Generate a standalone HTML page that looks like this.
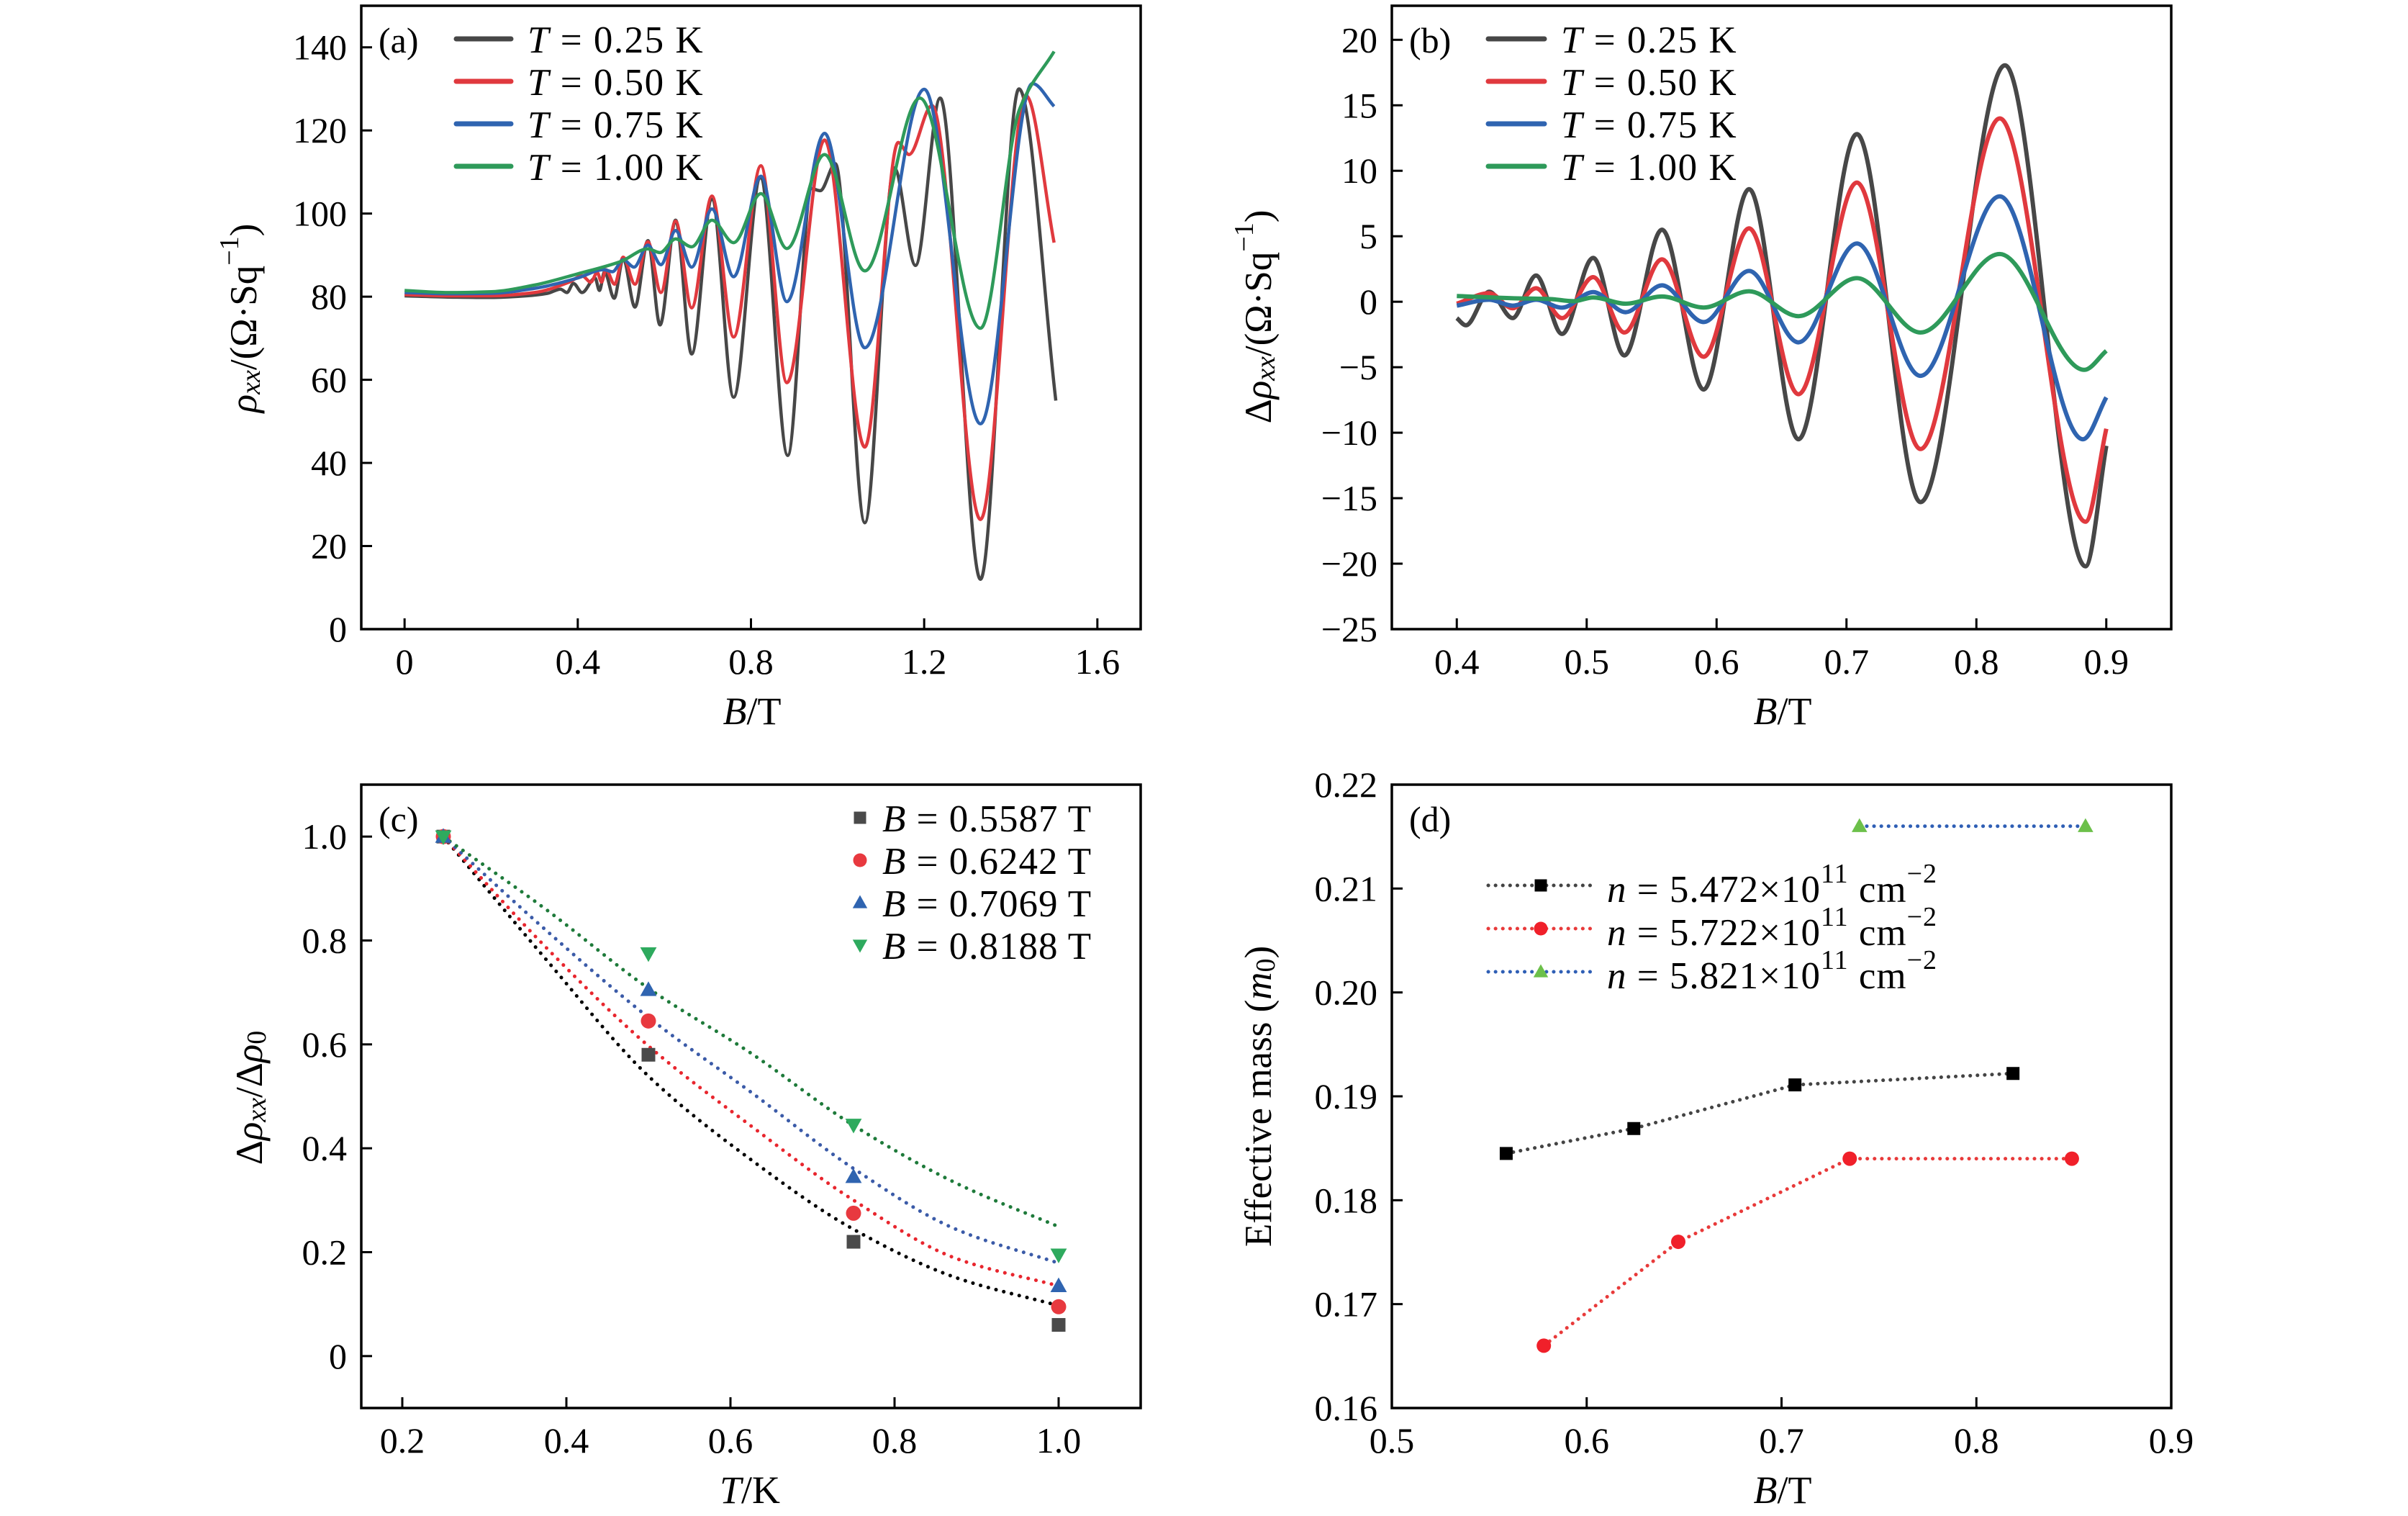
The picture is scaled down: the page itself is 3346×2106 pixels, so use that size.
<!DOCTYPE html>
<html><head><meta charset="utf-8"><style>
html,body{margin:0;padding:0;background:#fff;}
svg{display:block;font-family:"Liberation Serif",serif;}
</style></head><body>
<svg id="fig" width="3346" height="2106" viewBox="0 0 3346 2106" xmlns="http://www.w3.org/2000/svg"></svg>
<script>
// ---------- Panel (a) data: rho_xx vs B ----------
const aBlackB=[0,0.1,0.2,0.28,0.33,0.36,0.375,0.39,0.41,0.44,0.45,0.462,0.484,0.505,0.532,0.562,0.59,0.626,0.663,0.71,0.76,0.822,0.885,0.94,0.96,0.995,1.063,1.131,1.18,1.237,1.33,1.419,1.504];
const aBlackV=[80.2,79.9,79.8,80.2,80.8,81.8,81,83.2,81,84.5,81.5,86,79.6,89.2,77.5,93.5,73.2,98.4,66.2,103.4,55.8,108.6,41.8,106,105.5,112,25.6,111,87.5,127.8,12,130,55];
const aRedB=[0,0.1,0.2,0.3,0.38,0.41,0.43,0.445,0.455,0.465,0.485,0.505,0.532,0.562,0.592,0.626,0.663,0.71,0.76,0.823,0.883,0.97,1.063,1.14,1.165,1.218,1.33,1.435,1.5];
const aRedV=[80.5,80.2,80.2,81,83.5,85,83.5,85.8,83.5,86.5,83,89.5,83,93.2,81,98.2,77.3,104.2,70.3,111.5,59.3,117.7,43.8,117.1,114.2,126,26.4,128.4,93];
const aBlueB=[0,0.1,0.2,0.3,0.4,0.46,0.48,0.505,0.53,0.562,0.592,0.626,0.663,0.71,0.76,0.823,0.883,0.97,1.063,1.2,1.33,1.45,1.5];
const aBlueV=[81,80.7,80.8,82,84.5,86.5,86,88.9,87.1,92.4,87.7,95.9,87.1,101.1,84.8,109,78.8,119.3,67.7,129.9,49.4,131.3,125.8];
const aGreenB=[0,0.1,0.2,0.3,0.4,0.5,0.562,0.59,0.626,0.663,0.71,0.76,0.823,0.883,0.97,1.063,1.19,1.33,1.42,1.5];
const aGreenV=[81.5,81,81.2,82.8,85.5,88.5,91.5,90.6,93.9,92,98.4,93,104.8,91.6,114.2,86.2,127.8,72.4,125,139];
const aXTicks=[0,0.4,0.8,1.2,1.6];
const aXTickLabels=["0","0.4","0.8","1.2","1.6"];
const aYTicks=[0,20,40,60,80,100,120,140];
const aYTickLabels=["0","20","40","60","80","100","120","140"];
const tempLabels=["0.25","0.50","0.75","1.00"];

// ---------- Panel (b) data: delta rho_xx vs B ----------
const bBlackB=[0.4,0.407,0.425,0.443,0.461,0.481,0.505,0.529,0.558,0.59,0.625,0.663,0.708,0.757,0.822,0.884,0.9];
const bBlackV=[-1.25,-1.8,0.77,-1.25,2.0,-2.46,3.35,-4.1,5.5,-6.7,8.6,-10.5,12.8,-15.3,18.05,-20.2,-11];
const bRedB=[0.4,0.425,0.443,0.461,0.481,0.505,0.529,0.558,0.59,0.625,0.663,0.708,0.757,0.818,0.884,0.9];
const bRedV=[-0.15,0.66,-0.5,1.03,-1.25,1.88,-2.35,3.24,-4.2,5.6,-7.06,9.1,-11.25,14,-16.8,-9.7];
const bBlueB=[0.4,0.425,0.443,0.461,0.481,0.505,0.53,0.558,0.59,0.625,0.663,0.708,0.757,0.818,0.882,0.9];
const bBlueV=[-0.3,0.15,-0.3,0.15,-0.45,0.74,-0.8,1.25,-1.55,2.35,-3.1,4.45,-5.66,8.05,-10.5,-7.3];
const bGreenB=[0.4,0.45,0.47,0.49,0.505,0.53,0.558,0.59,0.625,0.663,0.708,0.757,0.818,0.883,0.9];
const bGreenV=[0.44,0.25,0.22,0.04,0.33,-0.15,0.4,-0.44,0.8,-1.1,1.8,-2.35,3.64,-5.2,-3.75];
const bXTicks=[0.4,0.5,0.6,0.7,0.8,0.9];
const bXTickLabels=["0.4","0.5","0.6","0.7","0.8","0.9"];
const bYTicks=[-25,-20,-15,-10,-5,0,5,10,15,20];
const bYTickLabels=["\u221225","\u221220","\u221215","\u221210","\u22125","0","5","10","15","20"];

// ---------- Panel (c) data: normalized amplitude vs T ----------
const cT=[0.25,0.5,0.75,1.0];
const cBlack=[1.0,0.58,0.22,0.06];
const cRed=[1.0,0.645,0.275,0.095];
const cBlue=[1.0,0.705,0.345,0.135];
const cGreen=[1.0,0.775,0.445,0.195];
const cFitT=[0.25,0.375,0.5,0.625,0.75,0.875,1.0];
const cFitBlack=[1.0,0.764,0.539,0.378,0.244,0.151,0.097];
const cFitRed=[1.0,0.787,0.597,0.443,0.30,0.188,0.135];
const cFitBlue=[1.0,0.82,0.652,0.508,0.361,0.244,0.179];
const cFitGreen=[1.0,0.86,0.708,0.583,0.444,0.333,0.249];
const cFieldLabels=["0.5587","0.6242","0.7069","0.8188"];
const cXTicks=[0.2,0.4,0.6,0.8,1.0];
const cXTickLabels=["0.2","0.4","0.6","0.8","1.0"];
const cYTicks=[0,0.2,0.4,0.6,0.8,1.0];
const cYTickLabels=["0","0.2","0.4","0.6","0.8","1.0"];

// ---------- Panel (d) data: effective mass vs B ----------
const dBlackB=[0.5587,0.6242,0.7069,0.8188];
const dBlackM=[0.1845,0.1869,0.1911,0.1922];
const dRedB=[0.578,0.647,0.735,0.849];
const dRedM=[0.166,0.176,0.184,0.184];
const dGreenB=[0.74,0.856];
const dGreenM=[0.216,0.216];
const dDensityLabels=["5.472","5.722","5.821"];
const dXTicks=[0.5,0.6,0.7,0.8,0.9];
const dXTickLabels=["0.5","0.6","0.7","0.8","0.9"];
const dYTicks=[0.16,0.17,0.18,0.19,0.20,0.21,0.22];
const dYTickLabels=["0.16","0.17","0.18","0.19","0.20","0.21","0.22"];

const NS="http://www.w3.org/2000/svg";
const svg=document.getElementById('fig');
function el(tag,attrs,parent){const e=document.createElementNS(NS,tag);for(const k in attrs)e.setAttribute(k,attrs[k]);(parent||svg).appendChild(e);return e;}
function scale(d0,d1,r0,r1){return v=>r0+(v-d0)/(d1-d0)*(r1-r0);}

function monoPath(xs,ys){
  const n=xs.length;const dx=[],m=[],t=new Array(n);
  for(let i=0;i<n-1;i++){dx.push(xs[i+1]-xs[i]);m.push((ys[i+1]-ys[i])/(xs[i+1]-xs[i]));}
  t[0]=m[0];t[n-1]=m[n-2];
  for(let i=1;i<n-1;i++){ if(m[i-1]*m[i]<=0)t[i]=0; else {const w1=2*dx[i]+dx[i-1],w2=dx[i]+2*dx[i-1];t[i]=(w1+w2)/(w1/m[i-1]+w2/m[i]);} }
  let d=`M${xs[0].toFixed(1)},${ys[0].toFixed(1)}`;
  for(let i=0;i<n-1;i++){const h=dx[i];
    d+=` C${(xs[i]+h/3).toFixed(1)},${(ys[i]+t[i]*h/3).toFixed(1)} ${(xs[i+1]-h/3).toFixed(1)},${(ys[i+1]-t[i+1]*h/3).toFixed(1)} ${xs[i+1].toFixed(1)},${ys[i+1].toFixed(1)}`;}
  return d;
}

const TF=50;
function axes(p){
  const g=el('g',{});
  
  
  el('rect',{x:p.L,y:p.T,width:p.R-p.L,height:p.B-p.T,fill:'none',stroke:'#000','stroke-width':3.5},g);
  p.xt.forEach((v,i)=>{const x=p.sx(v);
    el('line',{x1:x,y1:p.B,x2:x,y2:p.B-15,stroke:'#000','stroke-width':3},g);
    const t=el('text',{x:x,y:p.B+45,'font-size':TF,'text-anchor':'middle','dominant-baseline':'central'},g);
    t.textContent=p.xl[i];
    
    });
  p.yt.forEach((v,i)=>{const y=p.sy(v);
    el('line',{x1:p.L,y1:y,x2:p.L+15,y2:y,stroke:'#000','stroke-width':3},g);
    const t=el('text',{x:p.L-20,y:y,'font-size':TF,'text-anchor':'end','dominant-baseline':'central'},g);
    t.textContent=p.yl[i];
    
    });
  const lab=el('text',{x:p.L+24,y:p.T+48,'font-size':50,'dominant-baseline':'central'},g);
  lab.textContent=p.tag;
  
  
  return g;
}
function clip(id,p){const c=el('clipPath',{id:id});el('rect',{x:p.L,y:p.T,width:p.R-p.L,height:p.B-p.T},c);}

const colors=['#474747','#e0393e','#2f64b0','#2e9a5a'];

// ===== Panel A =====
const A={name:'panel-a',L:502,R:1585,T:8,B:874,tag:'(a)'};
A.sx=scale(-0.1,1.7,A.L,A.R);A.sy=scale(0,150,A.B,A.T);
A.xt=aXTicks;A.xl=aXTickLabels;A.yt=aYTicks;A.yl=aYTickLabels;
axes(A);clip('clipA',A);
[[aBlackB,aBlackV],[aRedB,aRedV],[aBlueB,aBlueV],[aGreenB,aGreenV]].forEach((s,i)=>{
  const p=el('path',{d:monoPath(s[0].map(A.sx),s[1].map(A.sy)),fill:'none',stroke:colors[i],'stroke-width':4.5,'clip-path':'url(#clipA)','stroke-linejoin':'round'});
  
  
});

function tempLegend(x0,x1,tx,names){
  tempLabels.forEach((l,i)=>{const y=54+i*59;
    const ln=el('line',{x1:x0,y1:y,x2:x1,y2:y,stroke:colors[i],'stroke-width':7,'stroke-linecap':'round'});
    
    
    const t=el('text',{x:tx,y:y+2,'font-size':53,'letter-spacing':1.5,'dominant-baseline':'central'});
    t.innerHTML='<tspan font-style="italic">T</tspan> = '+l+' K';
    
    
  });
}
tempLegend(634,710,733,'panel-a');

function ytitle(x,y,html,name){const t=el('text',{x:0,y:0,'font-size':53,'text-anchor':'middle','dominant-baseline':'central',transform:`translate(${x},${y}) rotate(-90)`});t.innerHTML=html;}
function xtitle(x,y,html,name){const t=el('text',{x:x,y:y,'font-size':54,'text-anchor':'middle','dominant-baseline':'central'});t.innerHTML=html;}
ytitle(339,442,'<tspan font-style="italic">ρ</tspan><tspan font-style="italic" font-size="38" dy="10">xx</tspan><tspan dy="-10">/(Ω·Sq</tspan><tspan font-size="38" dy="-20">−1</tspan><tspan dy="20">)</tspan>','panel-a-y-axis-title');
xtitle(1045,988,'<tspan font-style="italic">B</tspan>/T','panel-a-x-axis-title');

// ===== Panel B =====
const Bp={name:'panel-b',L:1934,R:3017,T:8,B:874,tag:'(b)'};
Bp.sx=scale(0.35,0.95,Bp.L,Bp.R);Bp.sy=scale(-25,22.6,Bp.B,Bp.T);
Bp.xt=bXTicks;Bp.xl=bXTickLabels;Bp.yt=bYTicks;Bp.yl=bYTickLabels;
axes(Bp);clip('clipB',Bp);
[[bBlackB,bBlackV],[bRedB,bRedV],[bBlueB,bBlueV],[bGreenB,bGreenV]].forEach((s,i)=>{
  const p=el('path',{d:monoPath(s[0].map(Bp.sx),s[1].map(Bp.sy)),fill:'none',stroke:colors[i],'stroke-width':6,'clip-path':'url(#clipB)','stroke-linejoin':'round'});
  
  
});
tempLegend(2068,2146,2169,'panel-b');
ytitle(1749,440,'Δ<tspan font-style="italic">ρ</tspan><tspan font-style="italic" font-size="38" dy="10">xx</tspan><tspan dy="-10">/(Ω·Sq</tspan><tspan font-size="38" dy="-20">−1</tspan><tspan dy="20">)</tspan>','panel-b-y-axis-title');
xtitle(2477,988,'<tspan font-style="italic">B</tspan>/T','panel-b-x-axis-title');

// ===== Panel C =====
const C={name:'panel-c',L:502,R:1585,T:1090,B:1956,tag:'(c)'};
C.sx=scale(0.15,1.1,C.L,C.R);C.sy=scale(-0.1,1.1,C.B,C.T);
C.xt=cXTicks;C.xl=cXTickLabels;C.yt=cYTicks;C.yl=cYTickLabels;
axes(C);
const fitCols=['#000','#e8262e','#3b5ba8','#1e7a3a'];
[cFitBlack,cFitRed,cFitBlue,cFitGreen].forEach((f,i)=>{
  const p=el('path',{d:monoPath(cFitT.map(C.sx),f.map(C.sy)),fill:'none',stroke:fitCols[i],'stroke-width':5,'stroke-dasharray':'0.1 11','stroke-linecap':'round'});
  
  
});
const mCols=['#4a4a4a','#e8393f','#2f64b0','#2eaa5e'];
function marker(kind,x,y,col,s,parent){
  if(kind===0)return el('rect',{x:x-s/2,y:y-s/2,width:s,height:s,fill:col},parent);
  if(kind===1)return el('circle',{cx:x,cy:y,r:s/2+1,fill:col},parent);
  if(kind===2)return el('polygon',{points:`${x},${y-s*0.62} ${x-s*0.6},${y+s*0.45} ${x+s*0.6},${y+s*0.45}`,fill:col},parent);
  return el('polygon',{points:`${x},${y+s*0.62} ${x-s*0.6},${y-s*0.45} ${x+s*0.6},${y-s*0.45}`,fill:col},parent);
}
[cBlack,cRed,cBlue,cGreen].forEach((arr,i)=>{
  arr.forEach((v,j)=>{const m=marker(i,C.sx(cT[j]),C.sy(v),mCols[i],19);
    
    });
});
cFieldLabels.forEach((l,i)=>{const y=1136+i*59;
  const m=marker(i,1195,y,mCols[i],17);
  
  
  const t=el('text',{x:1226,y:y+2,'font-size':53,'letter-spacing':1,'dominant-baseline':'central'});
  t.innerHTML='<tspan font-style="italic">B</tspan> = '+l+' T';
  
  
});
ytitle(347,1525,'Δ<tspan font-style="italic">ρ</tspan><tspan font-style="italic" font-size="38" dy="10">xx</tspan><tspan dy="-10">/Δ</tspan><tspan font-style="italic">ρ</tspan><tspan font-size="38" dy="10">0</tspan>','panel-c-y-axis-title');
xtitle(1042,2070,'<tspan font-style="italic">T</tspan>/K','panel-c-x-axis-title');

// ===== Panel D =====
const D={name:'panel-d',L:1934,R:3017,T:1090,B:1956,tag:'(d)'};
D.sx=scale(0.5,0.9,D.L,D.R);D.sy=scale(0.16,0.22,D.B,D.T);
D.xt=dXTicks;D.xl=dXTickLabels;D.yt=dYTicks;D.yl=dYTickLabels;
axes(D);
const dLineCols=['#444','#e83a3a','#2f5fb5'];
const dMarkCols=['#000','#f0202a','#6cc04a'];
const dKinds=[0,1,2];
[[dBlackB,dBlackM],[dRedB,dRedM],[dGreenB,dGreenM]].forEach((s,i)=>{
  const pts=s[0].map((b,j)=>D.sx(b).toFixed(1)+','+D.sy(s[1][j]).toFixed(1)).join(' ');
  const pl=el('polyline',{points:pts,fill:'none',stroke:dLineCols[i],'stroke-width':5,'stroke-dasharray':'0.1 10','stroke-linecap':'round'});
  
  
  s[0].forEach((b,j)=>{const m=marker(dKinds[i],D.sx(b),D.sy(s[1][j]),dMarkCols[i],18);
    
    });
});
dDensityLabels.forEach((l,i)=>{const y=1230+i*60;
  const ln=el('line',{x1:2068,y1:y,x2:2211,y2:y,stroke:dLineCols[i],'stroke-width':5,'stroke-dasharray':'0.1 10','stroke-linecap':'round'});
  
  
  const m=marker(dKinds[i],2141,y,dMarkCols[i],17);
  
  
  const t=el('text',{x:2233,y:y+6,'font-size':53,'letter-spacing':1,'dominant-baseline':'central'});
  t.innerHTML='<tspan font-style="italic">n</tspan> = '+l+'×10<tspan font-size="38" dy="-22">11</tspan><tspan dy="22"> cm</tspan><tspan font-size="38" dy="-22">−2</tspan>';
  
  
});
ytitle(1749,1523,'Effective mass (<tspan font-style="italic">m</tspan><tspan font-size="38" dy="10">0</tspan><tspan dy="-10">)</tspan>','panel-d-y-axis-title');
xtitle(2477,2070,'<tspan font-style="italic">B</tspan>/T','panel-d-x-axis-title');
</script>
</body></html>
